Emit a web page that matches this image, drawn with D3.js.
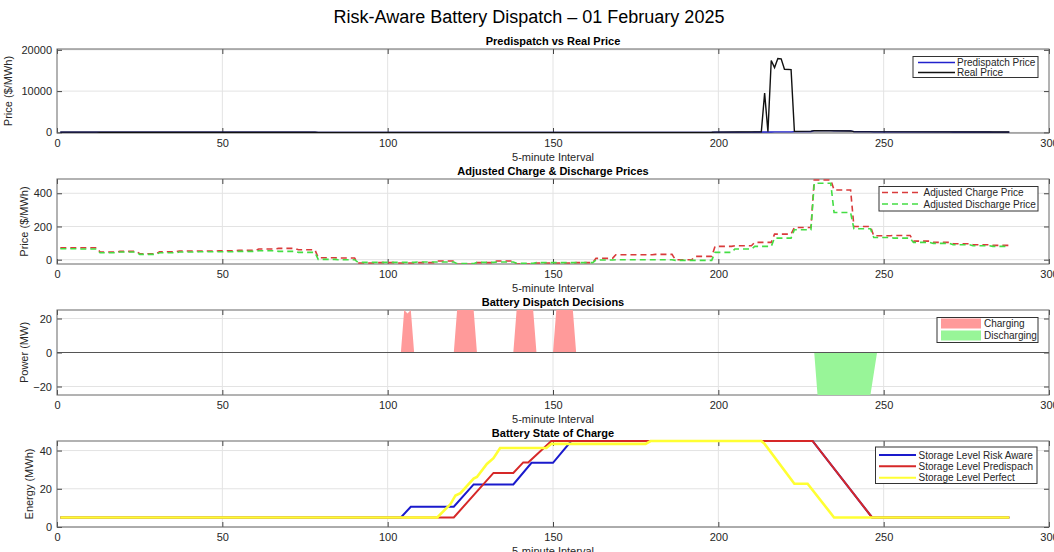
<!DOCTYPE html>
<html>
<head>
<meta charset="utf-8">
<script src="https://cdn.jsdelivr.net/npm/d3@7"></script>
<style>
  body { margin: 0; background: #fff; }
  svg { display: block; font-family: "Liberation Sans", Arial, sans-serif; }
</style>
</head>
<body>
<div id="chart"></div>
<script>
// ---- data ----
const xTicks = [0, 50, 100, 150, 200, 250, 300];

// half-hour blocks (6 x 5-minute intervals each), $/MWh
const predispatchBlocks = [68, 66, 44, 48, 34, 45, 49, 50, 51, 53, 59, 59,
  52, 7, 5, -18, -17, -18, -16, -11, -26, -17, -11, -24,
  -19, -19, -18, 3, 15, 15, 16, -2, 8, 62, 74, 92,
  142, 187, 420, 350, 193, 139, 138, 108, 101, 93, 87, 83];
const chargeBlocks = [72, 72, 46, 50, 36, 48, 52, 52, 54, 56, 64, 68,
  60, 12, 10, -20, -18, -20, -18, -8, -28, -18, -8, -26,
  -20, -20, -18, 8, 30, 30, 32, 0, 20, 80, 84, 104,
  154, 194, 480, 420, 200, 144, 146, 112, 104, 96, 90, 86];
const dischargeBlocks = [66, 64, 42, 46, 32, 42, 46, 48, 48, 50, 54, 50,
  44, 2, 0, -16, -16, -16, -14, -14, -24, -16, -14, -22,
  -18, -18, -18, -2, 0, 0, 0, -4, -4, 44, 64, 80,
  130, 180, 460, 284, 186, 134, 130, 104, 98, 90, 84, 80];

// real 5-minute price, [interval, $/MWh]
const realPricePts = [[1, 65], [12, 65], [13, 45], [78, 50], [79, 8], [90, 5], [91, -18],
  [162, -16], [163, 10], [198, 15], [199, 70], [213, 150], [214, 9500], [215, 150],
  [216, 17400], [217, 15700], [218, 17900], [219, 17800], [220, 15300], [222, 15200],
  [223, 250], [228, 300], [229, 420], [240, 350], [241, 180], [288, 80]];

// dispatch, [interval, MW]
const chargingPts = [[1, 0], [104, 0], [105, 25], [106, 23], [107, 25], [108, 0],
  [120, 0], [121, 25], [126, 25], [127, 0], [138, 0], [139, 25], [144, 25], [145, 0],
  [150, 0], [151, 25], [156, 25], [157, 0], [288, 0]];
const dischargingPts = [[1, 0], [229, 0], [230, -25], [246, -25], [248, 0], [288, 0]];

// state of charge, [interval, MWh]
const socRiskAware = [[1, 5], [104, 5], [107, 10.6], [120, 10.6], [126, 22.3], [138, 22.3],
  [143.5, 33.6], [150, 33.6], [155.5, 45], [228.5, 45], [246.5, 5], [288, 5]];
const socPredispatch = [[1, 5], [120, 5], [132, 28.3], [138, 28.3], [141, 33.8], [142.5, 33.8],
  [149.5, 45], [228.5, 45], [246.5, 5], [288, 5]];
const socPerfect = [[1, 5], [115, 5], [119, 12], [120.5, 16.5], [122, 17.7], [126, 25.3],
  [127, 26.2], [130, 33], [132, 36], [134, 41.3], [148, 41.3], [149.5, 43.5], [178, 43.5],
  [179.5, 45], [213, 45], [214, 43.5], [223, 22.6], [227, 22.6], [235, 5], [288, 5]];

// ---- drawing ----
const W = 1054, H = 552;
const intervals = d3.range(1, 289);
const expand = blocks => intervals.map(i => [i, blocks[Math.floor((i - 1) / 6)]]);

const svg = d3.select('#chart').append('svg').attr('width', W).attr('height', H);
const x = d3.scaleLinear().domain([0, 300]).range([57, 1049]);
const txt = '#262626';

svg.append('text').attr('x', 529).attr('y', 23).attr('text-anchor', 'middle')
   .attr('font-size', 18).attr('fill', '#000')
   .text('Risk-Aware Battery Dispatch \u2013 01 February 2025');

function panel(top, bottom, domain, yTicks, title, ylab, ylabX, id) {
  const y = d3.scaleLinear().domain(domain).range([bottom, top]);
  const g = svg.append('g');
  g.append('rect').attr('x', x(0)).attr('y', top).attr('width', x(300) - x(0))
   .attr('height', bottom - top).attr('fill', '#fff');
  // grid
  g.selectAll('.vg').data(xTicks.slice(1, -1)).enter().append('line')
   .attr('x1', d => x(d)).attr('x2', d => x(d)).attr('y1', top).attr('y2', bottom)
   .attr('stroke', '#e3e3e3');
  g.selectAll('.hg').data(yTicks).enter().append('line')
   .attr('x1', x(0)).attr('x2', x(300)).attr('y1', d => y(d)).attr('y2', d => y(d))
   .attr('stroke', '#e3e3e3');
  // axes
  g.append('g').attr('transform', 'translate(0,' + bottom + ')')
   .call(d3.axisBottom(x).tickValues(xTicks).tickSize(-5).tickPadding(6));
  g.append('g').attr('transform', 'translate(' + x(0) + ',0)')
   .call(d3.axisLeft(y).tickValues(yTicks).tickSize(-5).tickPadding(5).tickFormat(d3.format('d')));
  g.append('g').attr('transform', 'translate(0,' + top + ')')
   .call(d3.axisTop(x).tickValues(xTicks).tickSize(-5).tickFormat(''));
  g.append('g').attr('transform', 'translate(' + x(300) + ',0)')
   .call(d3.axisRight(y).tickValues(yTicks).tickSize(-5).tickFormat(''));
  svg.selectAll('.domain').attr('stroke', 'none');
  g.selectAll('.tick line').attr('stroke', '#444');
  g.selectAll('.tick text').attr('fill', txt).attr('font-size', 11)
   .attr('font-family', '"Liberation Sans", Arial, sans-serif');
  g.append('rect').attr('x', x(0)).attr('y', top).attr('width', x(300) - x(0))
   .attr('height', bottom - top).attr('fill', 'none').attr('stroke', '#666');
  g.append('clipPath').attr('id', id).append('rect').attr('x', x(0)).attr('y', top)
   .attr('width', x(300) - x(0)).attr('height', bottom - top);
  g.append('text').attr('x', (x(0) + x(300)) / 2).attr('y', top - 4)
   .attr('text-anchor', 'middle').attr('font-size', 11).attr('font-weight', 'bold')
   .attr('fill', '#000').text(title);
  g.append('text').attr('x', (x(0) + x(300)) / 2).attr('y', bottom + 28)
   .attr('text-anchor', 'middle').attr('font-size', 11).attr('fill', txt)
   .text('5-minute Interval');
  g.append('text').attr('transform', 'translate(' + ylabX + ',' + (top + bottom) / 2 + ') rotate(-90)')
   .attr('text-anchor', 'middle').attr('font-size', 11).attr('fill', txt).text(ylab);
  const plot = g.append('g').attr('clip-path', 'url(#' + id + ')');
  return { g, y, plot };
}

function legend(g, bx, by, bw, bh, rows, lineX1, lineX2, textX) {
  const lg = g.append('g');
  lg.append('rect').attr('x', bx).attr('y', by).attr('width', bw).attr('height', bh)
    .attr('fill', '#fff').attr('stroke', '#333');
  rows.forEach(r => {
    if (r.patch) {
      lg.append('rect').attr('x', lineX1).attr('y', r.y - 5).attr('width', lineX2 - lineX1)
        .attr('height', 10).attr('fill', r.color);
    } else {
      lg.append('line').attr('x1', lineX1).attr('x2', lineX2).attr('y1', r.y).attr('y2', r.y)
        .attr('stroke', r.color).attr('stroke-width', r.width || 1.5)
        .attr('stroke-dasharray', r.dash || null);
    }
    lg.append('text').attr('x', textX).attr('y', r.y + 3.5).attr('font-size', 10)
      .attr('fill', txt).text(r.label);
  });
}

// Panel 1
const p1 = panel(49, 133, [-150, 20200], [0, 10000, 20000], 'Predispatch vs Real Price',
                 'Price ($/MWh)', 12, 'c1');
const line1 = d3.line().x(d => x(d[0])).y(d => p1.y(d[1]));
p1.plot.append('path').datum(expand(predispatchBlocks)).attr('d', line1)
  .attr('fill', 'none').attr('stroke', '#2222cc').attr('stroke-width', 1.3);
p1.plot.append('path').datum(realPricePts).attr('d', line1)
  .attr('fill', 'none').attr('stroke', '#111').attr('stroke-width', 1.4);
legend(p1.g, 913, 56.5, 125, 21, [
  { y: 62.5, color: '#2222cc', label: 'Predispatch Price' },
  { y: 72.5, color: '#111', label: 'Real Price' }], 918, 955, 957);

// Panel 2
const p2 = panel(179, 264, [-26, 486], [0, 200, 400], 'Adjusted Charge & Discharge Prices',
                 'Price ($/MWh)', 28, 'c2');
const line2 = d3.line().x(d => x(d[0])).y(d => p2.y(d[1]));
p2.plot.append('path').datum(expand(chargeBlocks)).attr('d', line2)
  .attr('fill', 'none').attr('stroke', '#d93b3b').attr('stroke-width', 1.6)
  .attr('stroke-dasharray', '6,4');
p2.plot.append('path').datum(expand(dischargeBlocks)).attr('d', line2)
  .attr('fill', 'none').attr('stroke', '#44dd44').attr('stroke-width', 1.6)
  .attr('stroke-dasharray', '6,4');
legend(p2.g, 879, 186.5, 159, 24.5, [
  { y: 192.5, color: '#d93b3b', label: 'Adjusted Charge Price', dash: '6,4' },
  { y: 204, color: '#44dd44', label: 'Adjusted Discharge Price', dash: '6,4' }], 882, 921, 923.5);

// Panel 3
const p3 = panel(310, 395, [-25, 25], [-20, 0, 20], 'Battery Dispatch Decisions',
                 'Power (MW)', 28, 'c3');
const area3 = d3.area().x(d => x(d[0])).y0(p3.y(0)).y1(d => p3.y(d[1]));
p3.plot.append('path').datum(chargingPts).attr('d', area3).attr('fill', '#ff9a9a');
p3.plot.append('path').datum(dischargingPts).attr('d', area3).attr('fill', '#98f598');
p3.plot.append('line').attr('x1', x(0)).attr('x2', x(300))
  .attr('y1', p3.y(0)).attr('y2', p3.y(0)).attr('stroke', '#555').attr('stroke-width', 1);
legend(p3.g, 937, 317.5, 101, 25, [
  { y: 323.5, color: '#ff9a9a', label: 'Charging', patch: true },
  { y: 335.5, color: '#98f598', label: 'Discharging', patch: true }], 941, 981, 984);

// Panel 4
const p4 = panel(441, 527, [0, 45], [0, 20, 40], 'Battery State of Charge',
                 'Energy (MWh)', 33, 'c4');
const line4 = d3.line().x(d => x(d[0])).y(d => p4.y(d[1]));
[[socRiskAware, '#1a1acc', 2], [socPredispatch, '#d62828', 2], [socPerfect, '#ffff33', 2.6]].forEach(s => {
  p4.g.append('path').datum(s[0]).attr('d', line4).attr('fill', 'none')
    .attr('stroke', s[1]).attr('stroke-width', s[2]);
});
legend(p4.g, 875.5, 447, 161.5, 36.5, [
  { y: 455, color: '#1a1acc', label: 'Storage Level Risk Aware', width: 2 },
  { y: 466.3, color: '#d62828', label: 'Storage Level Predispach', width: 2 },
  { y: 477.8, color: '#ffff33', label: 'Storage Level Perfect', width: 2 }], 879, 916, 918.5);
</script>
</body>
</html>
